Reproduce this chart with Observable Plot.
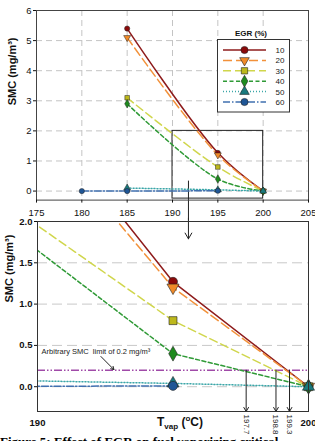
<!DOCTYPE html>
<html><head><meta charset="utf-8">
<script src="https://cdn.jsdelivr.net/npm/d3@7"></script>
<script src="https://cdn.jsdelivr.net/npm/@observablehq/plot@0.6"></script>
<style>
html,body{margin:0;padding:0;background:#fff;}
#wrap{width:315px;height:441px;position:relative;overflow:hidden;font-family:"Liberation Sans",Arial,sans-serif;}
#wrap svg{overflow:visible;display:block;}
#cap{position:absolute;left:0;top:435px;font:bold 13px/13px "Liberation Serif","Times New Roman",serif;white-space:nowrap;color:#000;}
</style></head><body><div id="wrap"></div>
<script>
// ---- data ----
const temps = [180, 185, 195, 200];
const egrLevels = ["10", "20", "30", "40", "50", "60"];
const smc10 = [null, 5.4, 1.27, 0];
const smc20 = [null, 5.1, 1.2, 0];
const smc30 = [null, 3.1, 0.8, 0];
const smc40 = [null, 2.9, 0.4, 0];
const smc50 = [null, 0.1, 0.04, 0];
const smc60 = [0, 0, 0.01, null];
const critTemps = [197.7, 198.8, 199.3];
const critLabels = ["197.7", "198.8", "199.3"];
const smcLimit = 0.2;
const zoomX = [190, 200];
const zoomY = [-0.25, 2.0];
const topXTicks = [175, 180, 185, 190, 195, 200, 205];
const topYTicks = [0, 1, 2, 3, 4, 5, 6];
const botXTicks = [190, 200];
const botYTicks = [0, 0.5, 1, 1.5, 2];
const yTitle = "SMC (mg/m³)";
const legendTitle = "EGR (%)";
const limitNote = "Arbitrary SMC  limit of 0.2 mg/m³";
const captionText = "Figure 5: Effect of EGR on fuel vaporizing critical";

const series = [smc10, smc20, smc30, smc40, smc50, smc60];
const styles = {
  "10": {stroke: "#8e1b1b", dash: null, fill: "#8b0a0a", symbol: "circle", rotate: 0},
  "20": {stroke: "#f2913a", dash: "9,4", fill: "#f08a28", symbol: "triangle", rotate: 180},
  "30": {stroke: "#d0d64c", dash: "8,4", fill: "#bdb81c", symbol: "square", rotate: 0},
  "40": {stroke: "#2f9a36", dash: "4,2.5", fill: "#1e8a1e", symbol: "diamond", rotate: 0},
  "50": {stroke: "#3ba6a8", dash: "1,2", fill: "#1a7a7e", symbol: "triangle", rotate: 0},
  "60": {stroke: "#4070b0", dash: "7,2,1.5,2", fill: "#1f5696", symbol: "circle", rotate: 0}
};

const rows = [];
egrLevels.forEach((g, i) => series[i].forEach((v, j) => { if (v != null) rows.push({egr: g, t: temps[j], smc: v}); }));
const byG = g => rows.filter(d => d.egr === g);

const font = "Liberation Sans, Arial, sans-serif";
const wrap = document.getElementById("wrap");

// ---- top chart ----
const topLines = egrLevels.map(g => Plot.line(byG(g), {x: "t", y: "smc", stroke: styles[g].stroke, strokeWidth: 1.5, strokeDasharray: styles[g].dash, curve: "catmull-rom"}));
const topDots = egrLevels.map(g => Plot.dot(byG(g), {x: "t", y: "smc", r: 2.6, symbol: styles[g].symbol, rotate: styles[g].rotate, fill: styles[g].fill, stroke: "#222", strokeWidth: 0.5}));

const topChart = Plot.plot({
  width: 315, height: 218,
  marginLeft: 36, marginRight: 7, marginTop: 10, marginBottom: 18.4,
  x: {domain: [175, 205]},
  y: {domain: [-0.3, 6]},
  style: {fontFamily: font, fontSize: "9.5px", color: "#111", background: "white", overflow: "visible"},
  marks: [
    Plot.gridX(topXTicks.slice(1, -1), {stroke: "#c4c4c4", strokeOpacity: 1, strokeDasharray: "6,4"}),
    Plot.gridY(topYTicks.slice(0, -1), {stroke: "#c4c4c4", strokeOpacity: 1, strokeDasharray: "6,4"}),
    Plot.rect([{}], {x1: zoomX[0], x2: zoomX[1], y1: zoomY[0], y2: zoomY[1], fill: "none", stroke: "#222", strokeWidth: 1}),
    Plot.ruleX([191.76], {y1: 0.33, y2: -0.99, stroke: "#222", strokeWidth: 1}),
    ...topLines,
    ...topDots,
    Plot.frame({stroke: "#444"}),
    Plot.axisX(topXTicks, {tickSize: 3, tickPadding: 6, label: null, tickFormat: d => String(d)}),
    Plot.axisY(topYTicks, {tickSize: 3, tickPadding: 2, label: null, tickFormat: d => String(d)}),
    Plot.text([yTitle], {frameAnchor: "left", text: d => d, rotate: -90, dx: -24, fontWeight: "bold", fontSize: 11})
  ]
});
wrap.appendChild(topChart);

// legend (drawn with d3 into the top svg)
{
  const svg = d3.select(topChart);
  const g = svg.append("g").attr("font-family", font);
  g.append("text").attr("x", 251).attr("y", 36).attr("text-anchor", "middle").attr("font-size", 8).attr("font-weight", "bold").attr("fill", "#111").text(legendTitle);
  g.append("rect").attr("x", 217.5).attr("y", 39.5).attr("width", 72).attr("height", 72.5).attr("fill", "white").attr("stroke", "#333");
  const symMap = {circle: d3.symbolCircle, triangle: d3.symbolTriangle, square: d3.symbolSquare, diamond: d3.symbolDiamond};
  egrLevels.forEach((lv, i) => {
    const s = styles[lv];
    const y = 50 + i * 10.4;
    g.append("line").attr("x1", 223).attr("x2", 266).attr("y1", y).attr("y2", y)
      .attr("stroke", s.stroke).attr("stroke-width", 1.5).attr("stroke-dasharray", s.dash);
    g.append("path").attr("d", d3.symbol(symMap[s.symbol], 40)())
      .attr("transform", `translate(244.5,${y}) rotate(${s.rotate})`)
      .attr("fill", s.fill).attr("stroke", "#222").attr("stroke-width", 0.6);
    g.append("text").attr("x", 280).attr("y", y + 3).attr("text-anchor", "middle").attr("font-size", 8).attr("fill", "#222").text(lv);
  });
}

// ---- bottom chart ----
const botLines = egrLevels.map(g => Plot.line(byG(g), {x: "t", y: "smc", stroke: styles[g].stroke, strokeWidth: 1.5, strokeDasharray: styles[g].dash, clip: true}));
const botDots = egrLevels.map(g => Plot.dot(byG(g).filter(d => d.t >= 190), {x: "t", y: "smc", r: 4.5, symbol: styles[g].symbol, rotate: styles[g].rotate, fill: styles[g].fill, stroke: "#222", strokeWidth: 0.6}));

const bottomChart = Plot.plot({
  width: 315, height: 215,
  marginLeft: 37, marginRight: 7, marginTop: 3, marginBottom: 22,
  x: {domain: [190, 200]},
  y: {domain: [-0.3, 2.0]},
  style: {fontFamily: font, fontSize: "9.5px", color: "#111", background: "white", overflow: "visible"},
  marks: [
    Plot.gridY(botYTicks.slice(0, -1), {stroke: "#c8c8c8", strokeOpacity: 1, strokeDasharray: "10,5"}),
    Plot.ruleY([smcLimit], {stroke: "#a04aa8", strokeWidth: 1.5, strokeDasharray: "8,2,1.5,2,1.5,2"}),
    ...botLines,
    Plot.arrow(critTemps, {x1: d => d, x2: d => d, y1: smcLimit, y2: -0.3, stroke: "#222", strokeWidth: 1, headLength: 7}),
    Plot.text(critLabels, {x: critTemps, y: -0.3, text: d => d, rotate: 90, textAnchor: "start", dy: 3, fontSize: 8, fill: "#222"}),
    Plot.text([limitNote], {x: 190.15, y: 0.42, text: d => d, textAnchor: "start", fontSize: 7.5, fill: "#222"}),
    Plot.arrow([{}], {x1: 192.34, y1: 0.366, x2: 192.82, y2: 0.207, stroke: "#222", strokeWidth: 1, headLength: 5}),
    Plot.arrow([{}], {x1: 195.57, x2: 195.57, y1: 2.04, y2: 1.79, stroke: "#222", strokeWidth: 1, headLength: 10}),
    ...botDots,
    Plot.frame({stroke: "#333"}),
    Plot.axisY(botYTicks, {tickSize: 3, tickPadding: 2, label: null, tickFormat: d => d.toFixed(1), fontWeight: "bold"}),
    Plot.axisX(botXTicks, {tickSize: 0, tickPadding: 8, label: null, tickFormat: d => String(d), fontWeight: "bold"}),
    Plot.text([yTitle], {frameAnchor: "left", text: d => d, rotate: -90, dx: -28, dy: -14, fontWeight: "bold", fontSize: 11})
  ]
});
wrap.appendChild(bottomChart);

// x-axis title with subscript / superscript
{
  const t = d3.select(bottomChart).append("text").attr("x", 180).attr("y", 208).attr("text-anchor", "middle")
    .attr("font-family", font).attr("font-size", 12).attr("font-weight", "bold").attr("fill", "#111");
  t.append("tspan").text("T");
  t.append("tspan").attr("font-size", 8).attr("dy", 3).text("vap");
  t.append("tspan").attr("dy", -3).text(" (");
  t.append("tspan").attr("font-size", 8).attr("dy", -5).text("o");
  t.append("tspan").attr("dy", 5).text("C)");
}

const cap = document.createElement("div");
cap.id = "cap";
cap.textContent = captionText;
wrap.appendChild(cap);
</script>
</body></html>
